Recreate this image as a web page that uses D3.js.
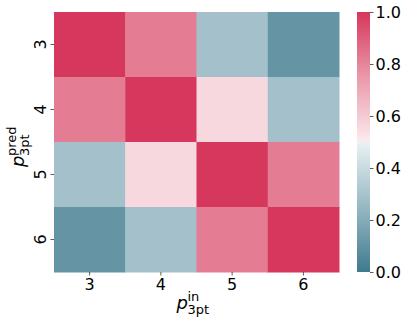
<!DOCTYPE html>
<html>
<head>
<meta charset="utf-8">
<script src="https://cdn.jsdelivr.net/npm/d3@7"></script>
<style>
  body { margin: 0; background: #fff; }
  text { font-family: "DejaVu Sans", sans-serif; }
</style>
</head>
<body>
<div id="wrapper"></div>
<script>
// data
const xCats = ["3", "4", "5", "6"]
const yCats = ["3", "4", "5", "6"]
const values = [
  [1.0, 0.82, 0.29, 0.11],
  [0.82, 1.0, 0.56, 0.29],
  [0.29, 0.56, 1.0, 0.82],
  [0.11, 0.29, 0.82, 1.0]
]
const cbarTicks = [0, 0.2, 0.4, 0.6, 0.8, 1.0]

function drawHeatmap() {
  const dims = {
    width: 407,
    height: 325,
    margin: { top: 12, left: 54 },
    boundedWidth: 285,
    boundedHeight: 260
  }

  const svg = d3.select("#wrapper")
    .append("svg")
      .attr("width", dims.width)
      .attr("height", dims.height)

  const bounds = svg.append("g")
    .attr("transform", `translate(${dims.margin.left},${dims.margin.top})`)

  const xScale = d3.scaleBand()
    .domain(xCats)
    .range([0, dims.boundedWidth])

  const yScale = d3.scaleBand()
    .domain(yCats)
    .range([0, dims.boundedHeight])

  // diverging colormap, roughly seaborn diverging_palette(220, 0)
  const colorScale = d3.scaleLinear()
    .domain([0, 0.25, 0.499, 0.5, 0.501, 0.75, 1])
    .range(["#3e7a8e", "#97b8c3", "#eaf1f3", "#f2f2f2", "#fbecef", "#ea98aa", "#d6375c"])
    .clamp(true)

  const cells = []
  values.forEach((row, i) => row.forEach((v, j) => cells.push({ x: xCats[j], y: yCats[i], v })))

  bounds.selectAll("rect.cell")
    .data(cells)
    .enter().append("rect")
      .attr("class", "cell")
      .attr("x", d => xScale(d.x))
      .attr("y", d => yScale(d.y))
      .attr("width", xScale.bandwidth() + 0.5)
      .attr("height", yScale.bandwidth() + 0.5)
      .attr("fill", d => colorScale(d.v))

  // axes
  const xAxis = bounds.append("g")
    .attr("transform", `translate(0,${dims.boundedHeight})`)
    .call(d3.axisBottom(xScale).tickSize(3.5).tickPadding(3))
  xAxis.select(".domain").remove()
  xAxis.selectAll("line").attr("stroke", "#333").attr("stroke-width", 0.8)
  xAxis.selectAll("text").attr("fill", "#000").style("font-size", "16px")

  const yAxis = bounds.append("g")
    .call(d3.axisLeft(yScale).tickSize(3.5).tickPadding(3))
  yAxis.select(".domain").remove()
  yAxis.selectAll("line").attr("stroke", "#333").attr("stroke-width", 0.8)
  yAxis.selectAll("text")
    .attr("fill", "#000")
    .style("font-size", "16px")
    .attr("x", 0).attr("dy", 0)
    .attr("transform", "translate(-14,0) rotate(-90)")
    .attr("text-anchor", "middle")
    .attr("dominant-baseline", "central")

  // axis labels p_3pt^in / p_3pt^pred
  const xLabel = bounds.append("g")
    .attr("transform", `translate(${dims.boundedWidth / 2 - 20},${dims.boundedHeight + 37})`)
  xLabel.append("text").attr("font-style", "italic").style("font-size", "18px").text("p")
  xLabel.append("text").attr("x", 11).attr("y", -8).style("font-size", "13px").text("in")
  xLabel.append("text").attr("x", 11).attr("y", 5).style("font-size", "13px").text("3pt")

  const yLabel = bounds.append("g")
    .attr("transform", `translate(${-dims.margin.left + 24},${dims.boundedHeight / 2 + 25}) rotate(-90)`)
  yLabel.append("text").attr("font-style", "italic").style("font-size", "18px").text("p")
  yLabel.append("text").attr("x", 11).attr("y", -8).style("font-size", "13px").text("pred")
  yLabel.append("text").attr("x", 11).attr("y", 5).style("font-size", "13px").text("3pt")

  // colorbar
  const cbar = { x: 357, y: 12, w: 13, h: 260 }
  const cScale = d3.scaleLinear().domain([0, 1]).range([cbar.y + cbar.h, cbar.y])

  const grad = svg.append("defs").append("linearGradient")
    .attr("id", "cgrad")
    .attr("x1", 0).attr("y1", 1).attr("x2", 0).attr("y2", 0)
  colorScale.domain().forEach(d => {
    grad.append("stop").attr("offset", d).attr("stop-color", colorScale(d))
  })

  svg.append("rect")
    .attr("x", cbar.x).attr("y", cbar.y)
    .attr("width", cbar.w).attr("height", cbar.h)
    .attr("fill", "url(#cgrad)")

  const cAxis = svg.append("g")
    .attr("transform", `translate(${cbar.x + cbar.w},0)`)
    .call(d3.axisRight(cScale).tickValues(cbarTicks).tickFormat(d3.format(".1f")).tickSize(3.5).tickPadding(2))
  cAxis.select(".domain").remove()
  cAxis.selectAll("line").attr("stroke", "#333").attr("stroke-width", 0.8)
  cAxis.selectAll("text").attr("fill", "#000").style("font-size", "16px")
}
drawHeatmap()
</script>
</body>
</html>
